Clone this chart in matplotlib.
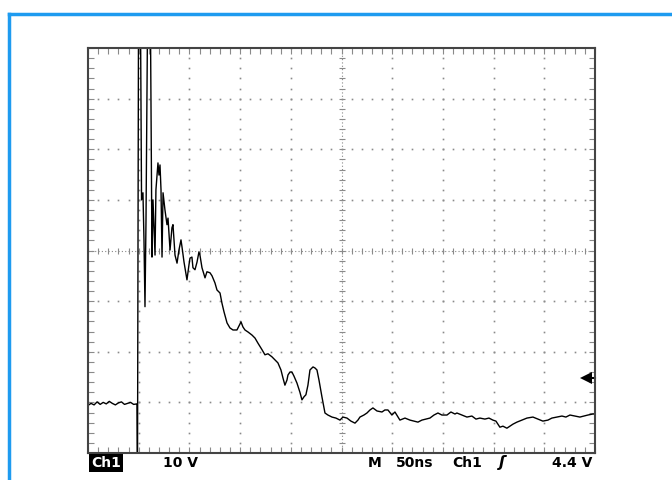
import numpy as np
import matplotlib
matplotlib.use("Agg")
import matplotlib.pyplot as plt
from matplotlib.lines import Line2D

# scope settings: 50 ns/div, 10 V/div, 10 x 8 divisions
t_div = 50
v_div = 10
n_x, n_y = 10, 8

# captured trace (time in ns from left edge, voltage in V from screen centre)
t_ns = [0, 3, 6, 9, 12, 15, 18, 21, 24, 27, 30, 33, 36, 39, 42, 45, 48.3,
        48.8, 49.8, 51.8, 52.8, 54.2, 55.2, 56.2, 57.2, 58.7, 61.6, 63.1,
        64.1, 66.1, 67.0, 69.0, 70.0, 71.0, 72.0, 73.0, 74.0, 75.9, 77.9,
        78.9, 80.9, 82.8, 83.8, 85.8, 87.8, 89.7, 91.7, 92.7, 94.7, 95.6,
        97.6, 99.6, 100.6, 102.5, 103.5, 105.5, 107.5, 109.4, 110.4, 112.4,
        115.4, 117.3, 120.3, 122.3, 125.2, 127.2, 130.2, 132.1, 134.1, 137.1,
        140.0, 143.0, 146.9, 148.9, 150.9, 152.8, 154.8, 157.8, 161.7, 164.7,
        167.6, 171.6, 174.5, 177.5, 181.4, 184.4, 187.3, 190.3, 192.3, 194.2,
        196.2, 197.2, 199.2, 201.1, 203.1, 206.1, 209.0, 211.0, 213.0, 214.9,
        216.9, 218.9, 221.9, 223.8, 225.8, 227.8, 230.7, 233.7, 236.6, 240.6,
        244.5, 248.5, 251.4, 255.4, 259.3, 263.3, 266.2, 268.2, 272.1, 275.1,
        278.1, 281.0, 285.0, 289.9, 292.8, 295.8, 299.7, 302.7, 305.7, 307.6,
        312.6, 317.5, 321.4, 325.4, 329.3, 333.3, 337.2, 341.2, 345.1, 349.0,
        354.0, 357.9, 361.9, 363.8, 368.8, 373.7, 378.6, 382.6, 386.5, 391.4,
        395.4, 399.3, 402.3, 406.2, 409.2, 413.1, 416.1, 419.1, 423.0, 427.9,
        432.9, 438.8, 443.7, 448.6, 453.6, 457.5, 462.4, 467.4, 471.3, 475.3,
        480.2, 485.1, 489.1, 493.0, 497.9, 499.9]
v_volts = [-30.6, -30.2, -30.5, -29.9, -30.4, -30.0, -30.3, -29.8, -30.2,
           -30.5, -30.1, -29.9, -30.4, -30.2, -30.0, -30.4, -30.3,
           -45, 45, 45, 10.0, 11.4, 2.1, -11.1, 6.0, 45, 45, -1.3,
           10.0, -0.9, 12.0, 17.3, 14.9, 16.9, 12.0, -1.3, 11.4, 8.0, 5.1,
           6.4, 0.1, 4.5, 5.1, -0.9, -2.5, 0.1, 2.1, 0.7, -2.3, -3.4,
           -5.8, -2.8, -1.5, -1.3, -3.4, -3.8, -2.3, -0.3, -0.9, -3.4,
           -5.4, -4.2, -4.4, -5.0, -6.4, -7.8, -8.4, -10.4, -12.1, -14.3,
           -15.3, -15.7, -15.7, -14.9, -14.1, -15.1, -15.7, -16.1, -16.7, -17.3,
           -18.3, -19.6, -20.6, -20.4, -21.0, -21.6, -22.2, -23.6, -25.2, -26.6,
           -25.6, -24.6, -24.0, -24.0, -24.8, -26.2, -28.0, -29.5, -28.9, -28.5,
           -26.6, -23.6, -23.0, -23.2, -23.6, -25.6, -28.9, -32.1, -32.5, -32.9,
           -33.1, -33.5, -32.9, -33.1, -33.7, -34.1, -33.5, -32.9, -32.5, -32.1,
           -31.5, -31.1, -31.7, -31.9, -31.5, -31.5, -32.5, -31.9, -32.9, -33.5,
           -33.1, -33.5, -33.7, -33.9, -33.5, -33.3, -33.1, -32.5, -32.1, -32.5,
           -32.5, -31.9, -32.3, -32.1, -32.5, -32.9, -32.7, -33.3, -33.1, -33.3,
           -33.1, -33.5, -33.7, -34.9, -34.7, -35.1, -34.7, -34.3, -33.9, -33.5,
           -33.1, -32.9, -33.3, -33.7, -33.5, -33.1, -32.9, -32.7, -32.9, -32.5,
           -32.7, -32.9, -32.7, -32.5, -32.3, -32.3]

trig_level = -25.2   # trigger arrow on right edge

fig = plt.figure(figsize=(6.72, 4.80), dpi=100)
ax = fig.add_axes([88 / 672, 27 / 480, 507 / 672, 405 / 480])
xmax = t_div * n_x
ymax = v_div * n_y / 2
ax.set_xlim(0, xmax)
ax.set_ylim(-ymax, ymax)

# graticule dots
grid_c = "#8a8a8a"
vy = np.arange(-ymax, ymax + 0.01, v_div / 5)
tx = np.arange(0, xmax + 0.01, t_div / 5)
for gx in range(t_div, xmax, t_div):
    if gx == xmax // 2:
        continue
    ax.plot(np.full_like(vy, gx), vy, ls="none", marker="s", ms=1.2, color=grid_c, mew=0)
for gy in range(-int(ymax) + v_div, int(ymax), v_div):
    if gy == 0:
        continue
    ax.plot(tx, np.full_like(tx, gy), ls="none", marker="s", ms=1.2, color=grid_c, mew=0)

# centre cross with small ticks
ax.plot(tx, np.zeros_like(tx), ls="none", marker="|", ms=5, color=grid_c, mew=0.8)
ax.plot(np.full_like(vy, xmax / 2), vy, ls="none", marker="_", ms=5, color=grid_c, mew=0.8)
ax.plot([0, xmax], [0, 0], ls=(0, (1, 2)), color=grid_c, lw=0.8)
ax.plot([xmax / 2, xmax / 2], [-ymax, ymax], ls=(0, (1, 2)), color=grid_c, lw=0.8)

# trace
ax.plot(t_ns, v_volts, color="black", lw=1.0, clip_on=True)

# frame ticks
ax.set_xticks(np.arange(0, xmax + 1, t_div))
ax.set_xticks(tx, minor=True)
ax.set_yticks(np.arange(-ymax, ymax + 1, v_div))
ax.set_yticks(vy, minor=True)
ax.tick_params(which="both", direction="in", top=True, right=True,
               labelbottom=False, labelleft=False, color=grid_c, length=4, width=0.8)
for s in ax.spines.values():
    s.set_color("#444444")
    s.set_linewidth(1.5)

# trigger level arrow
ax.plot([xmax - 9, xmax], [trig_level, trig_level], color="black", lw=1.5, clip_on=False)
ax.plot([xmax - 9], [trig_level], marker="<", ms=8, color="black", mew=0, clip_on=False)

# status line
ty = (480 - 463) / 480
tkw = dict(fontsize=10, fontweight="bold", va="center", family="DejaVu Sans")
fig.text(91 / 672, ty, "Ch1", color="white",
         bbox=dict(facecolor="black", edgecolor="none", pad=1.2), **tkw)
fig.text(163 / 672, ty, "10 V", color="black", **tkw)
fig.text(368 / 672, ty, "M", color="black", **tkw)
fig.text(396 / 672, ty, "50ns", color="black", **tkw)
fig.text(452 / 672, ty, "Ch1", color="black", **tkw)
fig.text(499 / 672, ty, "ʃ", color="black", fontsize=11, fontweight="bold",
         va="center", style="italic")
fig.text(552 / 672, ty, "4.4 V", color="black", **tkw)

# blue frame around the figure
blue = "#1e9bf0"
fig.add_artist(Line2D([9 / 672, 1.0], [1 - 14 / 480, 1 - 14 / 480], color=blue, lw=2.5))
fig.add_artist(Line2D([9 / 672, 9 / 672], [0, 1 - 14 / 480], color=blue, lw=2.5))

fig.savefig("out.png", dpi=100)
